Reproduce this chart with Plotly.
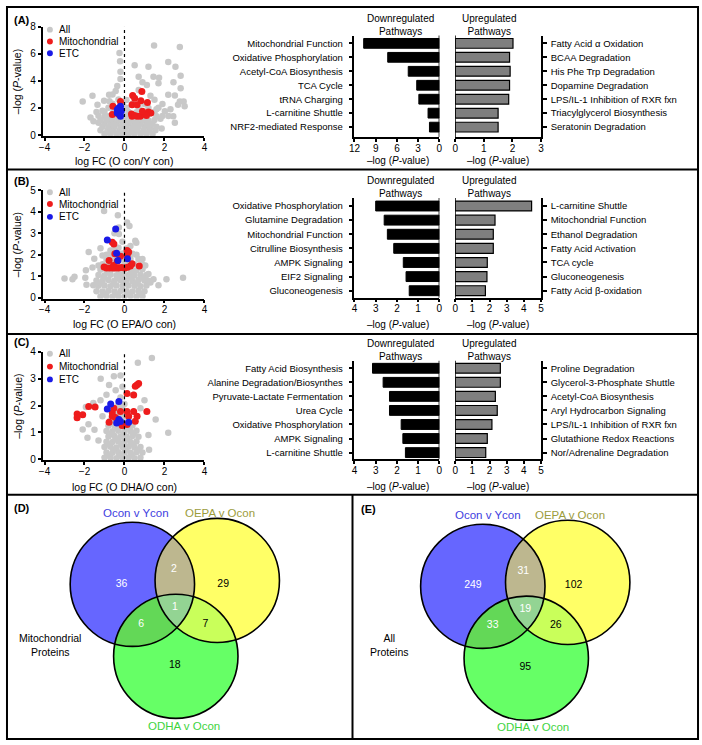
import numpy as np
import plotly.graph_objects as go

W, H = 702, 745
FONT = "Liberation Sans, Arial, Helvetica, sans-serif"

# ======================= DATA =======================
# ---- Panel A volcano (log FC O con / Y con) ----
A_all = [
    (1.48, 6.62), (2.77, 6.50), (-0.25, 6.06), (-0.22, 5.45), (2.19, 5.40), (0.51, 5.16), (1.20, 5.04), (2.55, 5.04),
    (-0.20, 4.67), (0.71, 4.30), (1.45, 4.30), (1.73, 4.23), (2.81, 4.38), (-0.20, 4.14), (1.70, 3.82), (2.45, 3.89),
    (1.12, 3.70), (-0.36, 3.62), (2.81, 3.45), (-0.44, 3.26), (0.71, 3.33), (0.90, 3.90), (-0.60, 3.00), (1.30, 2.90),
    (-0.77, 2.97), (2.19, 2.97), (2.52, 2.92), (-1.60, 2.90), (-2.09, 2.48), (-1.35, 2.24), (-1.02, 2.53), (-0.75, 2.50),
    (2.77, 2.48), (2.96, 2.48), (3.01, 2.12), (2.68, 2.24), (2.30, 1.90), (2.02, 1.75), (1.50, 2.60), (1.90, 2.30),
    (1.60, 1.90), (2.20, 1.40), (1.80, 1.20), (2.44, 1.39), (2.52, 0.90), (1.86, 0.49), (-1.10, 1.80), (-1.40, 1.70),
    (-1.70, 1.30), (-1.55, 1.02), (-1.30, 0.90), (-1.00, 1.35),
    (-1.00, 0.08), (-0.70, 0.12), (-0.40, 0.06), (-0.10, 0.10), (0.20, 0.05), (0.50, 0.12), (0.80, 0.08), (1.10, 0.10), (1.40, 0.06),
    (-1.20, 0.36), (-0.85, 0.33), (-0.55, 0.38), (-0.25, 0.32), (0.05, 0.37), (0.35, 0.34), (0.65, 0.36), (0.95, 0.31), (1.25, 0.38), (1.55, 0.35),
    (-1.10, 0.62), (-0.80, 0.58), (-0.50, 0.63), (-0.20, 0.59), (0.10, 0.61), (0.40, 0.57), (0.70, 0.64), (1.00, 0.60), (1.30, 0.58), (1.60, 0.62),
    (-1.00, 0.86), (-0.70, 0.83), (-0.40, 0.88), (-0.10, 0.84), (0.20, 0.87), (0.50, 0.82), (0.80, 0.86), (1.10, 0.88), (1.40, 0.84),
    (-1.20, 1.12), (-0.90, 1.08), (-0.60, 1.13), (-0.30, 1.09), (0.00, 1.11), (0.30, 1.07), (0.60, 1.12), (0.90, 1.10), (1.20, 1.08), (1.50, 1.12),
    (-1.30, 1.42), (-0.80, 1.38), (-0.45, 1.41), (0.10, 1.43), (0.45, 1.39), (0.75, 1.42), (1.60, 1.38), (1.90, 1.41),
    (-1.00, 1.72), (-0.55, 1.68), (0.20, 1.71), (0.60, 1.69), (0.90, 1.73), (1.50, 1.70),
    (-0.80, 2.02), (-0.40, 1.98), (0.10, 2.01), (0.70, 2.03), (1.20, 1.99), (1.70, 2.02),
    (-0.60, 2.31), (-0.10, 2.28), (0.40, 2.32), (1.00, 2.30), (-0.30, 2.62), (0.10, 2.58),
    (-0.85, 0.20), (-0.25, 0.18), (0.35, 0.20), (0.95, 0.22), (-0.55, 0.75), (0.05, 0.72), (0.65, 0.74), (1.25, 0.73),
    (-0.75, 1.25), (-0.15, 1.26), (0.45, 1.24), (1.05, 1.27), (-0.25, 1.55), (0.35, 1.56), (1.25, 1.55),
]
A_mito = [
    (0.41, 2.92), (0.87, 3.21), (0.51, 2.72), (0.82, 2.53), (1.15, 2.41), (-0.58, 2.12), (-0.20, 2.48),
    (0.38, 2.24), (0.63, 2.24), (-0.61, 1.51), (-0.28, 1.51), (0.35, 1.56), (0.63, 1.39), (0.79, 1.39),
    (1.04, 1.51), (1.20, 1.70), (1.32, 1.63), (0.90, 1.75), (0.38, 1.39), (1.10, 1.45), (0.50, 1.45),
]
A_etc = [(-0.36, 1.87), (-0.28, 2.00), (-0.20, 2.12), (-0.36, 1.63), (-0.23, 1.51), (-0.28, 1.75),
         (-0.15, 1.80), (-0.20, 1.39), (-0.30, 1.95)]

A_down_labels = ["Mitochondrial Function", "Oxidative Phosphorylation", "Acetyl-CoA Biosynthesis", "TCA Cycle",
                 "tRNA Charging", "L-carnitine Shuttle", "NRF2-mediated Response"]
A_down_vals = [10.7, 7.3, 4.4, 3.2, 2.9, 1.6, 1.4]
A_up_labels = ["Fatty Acid α Oxidation", "BCAA Degradation", "His Phe Trp Degradation", "Dopamine Degradation",
               "LPS/IL-1 Inhibition of RXR fxn", "Triacylglycerol Biosynthesis", "Seratonin Degradation"]
A_up_vals = [2.02, 1.90, 1.92, 1.90, 1.87, 1.50, 1.50]

# ---- Panel B volcano (log FC O EPA / O con) ----
B_all = [
    (-1.02, 4.03), (-0.33, 3.83), (0.13, 3.50), (0.25, 3.34), (-0.28, 3.27), (-0.28, 2.96), (-0.50, 3.00), (0.54, 2.65),
    (-0.10, 2.60), (0.59, 2.55), (0.30, 2.40), (-1.79, 2.12), (-1.20, 2.30), (-0.70, 2.20), (-0.90, 2.00), (-1.10, 1.96),
    (-1.51, 1.81), (-1.30, 1.50), (-1.60, 1.40), (-1.93, 1.27), (-1.96, 0.92), (-2.50, 0.97), (-2.60, 0.85), (-3.00, 0.89),
    (-1.90, 0.60), (-1.56, 0.58), (0.60, 2.00), (0.90, 1.80), (1.04, 1.50), (1.20, 1.10), (1.30, 0.70), (1.45, 0.86),
    (1.70, 0.58), (2.10, 0.86), (2.93, 0.92),
    (-1.20, 0.05), (-0.90, 0.07), (-0.60, 0.04), (-0.30, 0.06), (0.00, 0.05), (0.30, 0.07), (0.60, 0.04), (0.90, 0.06),
    (-1.40, 0.30), (-1.10, 0.28), (-0.80, 0.32), (-0.50, 0.29), (-0.20, 0.31), (0.10, 0.30), (0.40, 0.28), (0.70, 0.32), (1.00, 0.30),
    (-1.30, 0.55), (-1.00, 0.57), (-0.70, 0.53), (-0.40, 0.56), (-0.10, 0.54), (0.20, 0.57), (0.50, 0.55), (0.80, 0.53), (1.10, 0.56),
    (-1.40, 0.80), (-1.10, 0.78), (-0.80, 0.82), (-0.50, 0.79), (-0.20, 0.81), (0.10, 0.80), (0.40, 0.78), (0.70, 0.82), (1.00, 0.80), (1.20, 0.79),
    (-1.30, 1.05), (-1.00, 1.03), (-0.70, 1.07), (-0.40, 1.04), (-0.10, 1.06), (0.20, 1.05), (0.50, 1.03), (0.80, 1.07), (1.10, 1.05),
    (-1.20, 1.30), (-0.90, 1.28), (-0.60, 1.32), (-0.30, 1.29), (0.00, 1.31), (0.30, 1.30), (0.60, 1.28), (0.90, 1.32),
    (-1.10, 1.55), (-0.80, 1.57), (-0.50, 1.54), (0.00, 1.56), (0.50, 1.55), (0.90, 1.53),
    (-0.90, 1.80), (-0.60, 1.82), (-0.20, 1.79), (0.30, 1.81), (0.70, 1.80),
    (-0.70, 2.05), (-0.10, 2.06), (0.40, 2.04), (-0.50, 2.30), (-0.30, 2.32), (0.10, 2.29),
    (-1.05, 0.18), (-0.45, 0.17), (0.15, 0.19), (0.75, 0.18), (-1.15, 0.68), (-0.55, 0.67), (0.05, 0.69), (0.65, 0.68),
    (-1.05, 0.93), (-0.35, 0.92), (0.35, 0.94), (0.95, 0.93), (-0.75, 1.18), (-0.15, 1.17), (0.45, 1.19),
    (-0.35, 1.45), (0.25, 1.44), (-0.40, 1.70), (0.10, 1.68), (-0.40, 1.95), (0.15, 1.93),
]
B_mito = [
    (-0.61, 2.58), (-0.53, 2.50), (-0.48, 2.04), (-0.20, 1.93), (0.13, 2.19), (0.21, 2.12), (0.13, 1.96),
    (-0.77, 1.73), (-0.36, 1.69), (-1.02, 1.43), (-0.90, 1.38), (-0.75, 1.38), (-0.60, 1.38), (-0.45, 1.38),
    (-0.30, 1.38), (-0.15, 1.40), (0.00, 1.38), (0.15, 1.42), (0.30, 1.47), (0.38, 1.58), (0.74, 1.47), (-0.55, 1.50),
]
B_etc = [(-0.44, 3.19), (-0.86, 2.68), (-0.39, 2.07), (-0.33, 1.73), (0.15, 1.81)]

B_down_labels = ["Oxidative Phosphorylation", "Glutamine Degradation", "Mitochondrial Function",
                 "Citrulline Biosynthesis", "AMPK Signaling", "EIF2 Signaling", "Gluconeogenesis"]
B_down_vals = [3.0, 2.6, 2.45, 2.15, 1.7, 1.57, 1.42]
B_up_labels = ["L-carnitine Shuttle", "Mitochondrial Function", "Ethanol Degradation", "Fatty Acid Activation",
               "TCA cycle", "Gluconeogenesis", "Fatty Acid β-oxidation"]
B_up_vals = [4.45, 2.32, 2.22, 2.22, 1.87, 1.85, 1.76]

# ---- Panel C volcano (log FC O DHA / O con) ----
C_all = [
    (1.37, 3.77), (0.67, 3.59), (-0.53, 3.09), (-0.20, 3.12), (-1.19, 3.00), (-0.77, 2.76), (-0.44, 2.57), (-0.10, 2.70),
    (-0.90, 2.40), (-1.20, 2.20), (-1.56, 2.09), (-1.93, 1.94), (-1.10, 1.60), (-1.80, 1.30), (-2.09, 1.11), (-1.50, 1.10),
    (-1.85, 0.80), (-1.30, 0.70), (0.45, 2.40), (0.80, 1.90), (1.00, 2.20), (1.56, 1.48), (1.20, 0.90), (2.19, 0.99), (1.23, 0.35),
    (-1.00, 0.05), (-0.70, 0.06), (-0.40, 0.04), (-0.10, 0.05), (0.20, 0.06), (0.50, 0.04), (0.80, 0.05),
    (-0.90, 0.25), (-0.60, 0.24), (-0.30, 0.26), (0.00, 0.25), (0.30, 0.24), (0.60, 0.26), (0.90, 0.25),
    (-1.00, 0.45), (-0.70, 0.46), (-0.40, 0.44), (-0.10, 0.45), (0.20, 0.46), (0.50, 0.44), (0.80, 0.45),
    (-0.90, 0.65), (-0.60, 0.64), (-0.30, 0.66), (0.00, 0.65), (0.30, 0.64), (0.60, 0.66),
    (-0.80, 0.85), (-0.50, 0.86), (-0.20, 0.84), (0.10, 0.85), (0.40, 0.86), (0.70, 0.84),
    (-0.90, 1.05), (-0.60, 1.04), (-0.30, 1.06), (0.00, 1.05), (0.30, 1.04), (0.60, 1.06),
    (-0.80, 1.25), (-0.50, 1.26), (-0.20, 1.24), (0.10, 1.25), (0.40, 1.26),
    (-0.70, 1.45), (-0.40, 1.44), (-0.10, 1.46), (0.20, 1.45),
    (-0.50, 1.65), (-0.20, 1.66), (0.10, 1.64), (-0.40, 1.85), (-0.10, 1.86),
    (-0.30, 2.05), (0.00, 2.06), (-0.20, 2.30),
    (-0.85, 0.15), (-0.25, 0.14), (0.35, 0.16), (-0.55, 0.35), (0.05, 0.36), (0.65, 0.34), (-0.75, 0.55), (-0.15, 0.56),
    (0.45, 0.55), (-0.45, 0.75), (0.15, 0.76), (-0.65, 0.95), (-0.05, 0.94), (0.45, 0.96), (-0.35, 1.15), (0.25, 1.16),
    (-0.55, 1.35), (-0.05, 1.36), (-0.35, 1.55), (-0.25, 1.75), (-0.15, 1.95),
]
C_mito = [
    (0.71, 2.82), (0.62, 2.76), (0.54, 2.72), (0.13, 2.45), (0.46, 2.39), (-2.37, 1.68), (-2.37, 1.54),
    (-2.09, 1.66), (-1.79, 1.96), (-1.47, 1.94), (-0.53, 1.90), (-0.61, 1.72), (-0.61, 1.60), (-0.20, 1.78),
    (0.13, 1.78), (0.46, 1.78), (1.12, 1.78), (0.63, 1.60), (0.21, 1.60), (-0.77, 1.38), (-0.28, 1.41),
    (-0.12, 1.26), (0.13, 1.29), (0.54, 1.41), (-0.45, 1.55),
]
C_etc = [(-0.69, 2.06), (-0.28, 2.15), (-0.86, 1.87), (-0.28, 1.48), (-0.39, 1.35), (-0.20, 1.40), (0.21, 1.38)]

C_down_labels = ["Fatty Acid Biosynthesis", "Alanine Degradation/Biosynthes", "Pyruvate-Lactate Fermentation",
                 "Urea Cycle", "Oxidative Phosphorylation", "AMPK Signaling", "L-carnitine Shuttle"]
C_down_vals = [3.15, 2.65, 2.35, 2.35, 1.8, 1.72, 1.6]
C_up_labels = ["Proline Degradation", "Glycerol-3-Phosphate Shuttle", "Acetyl-CoA Biosynthesis",
               "Aryl Hydrocarbon Signaling", "LPS/IL-1 Inhibition of RXR fxn", "Glutathione Redox Reactions",
               "Nor/Adrenaline Degradation"]
C_up_vals = [2.63, 2.63, 2.34, 2.45, 2.14, 1.87, 1.78]

VOLCANO_XTITLES = ["log FC (O con/Y con)", "log FC (O EPA/O con)", "log FC (O DHA/O con)"]
LEGEND_NAMES = ["All", "Mitochondrial", "ETC"]

# ---- Venn diagrams ----
VENN_SETS = ["Ocon v Ycon", "OEPA v Ocon", "ODHA v Ocon"]
# regions: Ocon only, Ocon&OEPA, OEPA only, all three, Ocon&ODHA, OEPA&ODHA, ODHA only
D_counts = [36, 2, 29, 1, 6, 7, 18]
E_counts = [249, 31, 102, 19, 33, 26, 95]

# ======================= HELPERS / STYLE =======================
def fx(px):
    return px / W

def fy(py):
    return 1 - py / H

def xdom(a, b):
    return [fx(a), fx(b)]

def ydom(top, bottom):
    return [fy(bottom), fy(top)]

def aref(i, k):
    return k if i == 1 else f"{k}{i}"

def akey(i, k):
    return f"{k}axis" if i == 1 else f"{k}axis{i}"

GREY = "#c8c8c8"
RED = "#ee1c1c"
BLUE = "#1a1ae6"

AX = dict(showline=True, linecolor="black", linewidth=1.5, ticks="outside", ticklen=4, tickwidth=1.5,
          tickcolor="black", showgrid=False, zeroline=False, fixedrange=True,
          tickfont=dict(family=FONT, size=10, color="black"))

fig = go.Figure()
layout = dict(width=W, height=H, margin=dict(l=0, r=0, t=0, b=0), paper_bgcolor="white",
              plot_bgcolor="rgba(0,0,0,0)", showlegend=False,
              font=dict(family=FONT, size=10, color="black"))
shapes, annotations = [], []

def ann(text, x, y, size=10, xanchor="center", yanchor="middle", color="black", angle=0, xref="paper", yref="paper"):
    annotations.append(dict(text=text, x=x, y=y, xref=xref, yref=yref, showarrow=False, xanchor=xanchor,
                            yanchor=yanchor, textangle=angle, font=dict(family=FONT, size=size, color=color)))

panels = [
    dict(all=A_all, mito=A_mito, etc=A_etc, dl=A_down_labels, dv=A_down_vals, ul=A_up_labels, uv=A_up_vals),
    dict(all=B_all, mito=B_mito, etc=B_etc, dl=B_down_labels, dv=B_down_vals, ul=B_up_labels, uv=B_up_vals),
    dict(all=C_all, mito=C_mito, etc=C_etc, dl=C_down_labels, dv=C_down_vals, ul=C_up_labels, uv=C_up_vals),
]
# layout (pixel) specifications for each row panel
specs = [
    dict(label="(A)", label_y=14, vdom=(21, 132), vrange=[-0.073, 8], vticks=[0, 2, 4, 6, 8], vtop=8,
         bdom=(30, 133), brange=[6.71, -0.56], drange=[12, 0], dticks=[12, 9, 6, 3, 0], urange=[0, 3],
         uticks=[0, 1, 2, 3], head_y=19, title_y=157, leg_y=[24, 36, 48]),
    dict(label="(B)", label_y=178, vdom=(187, 297), vrange=[-0.046, 5], vticks=[0, 1, 2, 3, 4, 5], vtop=5,
         bdom=(195, 296), brange=[6.49, -0.56], drange=[4, 0], dticks=[4, 3, 2, 1, 0], urange=[0, 5],
         uticks=[0, 1, 2, 3, 4, 5], head_y=184, title_y=323, leg_y=[189, 201, 214]),
    dict(label="(C)", label_y=341, vdom=(351, 461), vrange=[-0.037, 4], vticks=[0, 1, 2, 3, 4], vtop=4,
         bdom=(360, 460), brange=[6.47, -0.54], drange=[4, 0], dticks=[4, 3, 2, 1, 0], urange=[0, 5],
         uticks=[0, 1, 2, 3, 4, 5], head_y=349, title_y=488, leg_y=[353, 366, 379]),
]

for p, (d, s) in enumerate(zip(panels, specs)):
    iv, idn, iup = 3 * p + 1, 3 * p + 2, 3 * p + 3
    # ---- volcano ----
    for pts, col, sz in ((d["all"], GREY, 6.5), (d["mito"], RED, 7), (d["etc"], BLUE, 7)):
        fig.add_trace(go.Scatter(x=[a for a, b in pts], y=[b for a, b in pts], mode="markers",
                                 marker=dict(color=col, size=sz, line=dict(width=0)),
                                 xaxis=aref(iv, "x"), yaxis=aref(iv, "y"), hoverinfo="skip"))
    layout[akey(iv, "x")] = dict(AX, domain=xdom(37, 201), range=[-4.1, 4], tickvals=[-4, -2, 0, 2, 4],
                                 anchor=aref(iv, "y"), ticklen=3, ticklabelstandoff=-2)
    layout[akey(iv, "y")] = dict(AX, domain=ydom(*s["vdom"]), range=s["vrange"], tickvals=s["vticks"],
                                 anchor=aref(iv, "x"), ticklen=3)
    shapes.append(dict(type="line", xref=aref(iv, "x"), yref=aref(iv, "y"), x0=0, x1=0, y0=0, y1=s["vtop"],
                       line=dict(color="black", width=1.2, dash="dot")))
    # legend (manual)
    for name, col, ly in zip(LEGEND_NAMES, (GREY, RED, BLUE), s["leg_y"]):
        shapes.append(dict(type="circle", xref="paper", yref="paper", x0=fx(41.5), x1=fx(47.5),
                           y0=fy(ly + 3), y1=fy(ly - 3), fillcolor=col, line=dict(width=0)))
        ann(name, fx(52), fy(ly), size=10, xanchor="left")
    ann("–log (<i>P</i>-value)", fx(12), fy((s["vdom"][0] + s["vdom"][1]) / 2), size=10.5, angle=-90)
    ann(VOLCANO_XTITLES[p], fx(120), fy(s["title_y"]), size=10.5)
    ann("<b>" + s["label"] + "</b>", fx(6), fy(s["label_y"]), size=11, xanchor="left")

    # ---- downregulated bars ----
    fig.add_trace(go.Bar(x=d["dv"], y=list(range(7)), orientation="h", width=0.7,
                         marker=dict(color="black", line=dict(color="black", width=1)),
                         xaxis=aref(idn, "x"), yaxis=aref(idn, "y"), hoverinfo="skip"))
    layout[akey(idn, "x")] = dict(AX, domain=xdom(353, 439), range=s["drange"], tickvals=s["dticks"],
                                  anchor=aref(idn, "y"), ticklen=3, ticklabelstandoff=-2)
    layout[akey(idn, "y")] = dict(AX, domain=ydom(*s["bdom"]), range=s["brange"], tickvals=list(range(7)),
                                  ticktext=d["dl"], anchor=aref(idn, "x"), side="left", ticklabelstandoff=4,
                                  tickfont=dict(family=FONT, size=9.5, color="black"))
    shapes.append(dict(type="line", xref=aref(idn, "x"), yref=aref(idn, "y") + " domain", x0=0, x1=0, y0=0, y1=1,
                       line=dict(color="black", width=1.5)))
    # ---- upregulated bars ----
    fig.add_trace(go.Bar(x=d["uv"], y=list(range(7)), orientation="h", width=0.7,
                         marker=dict(color="#7f7f7f", line=dict(color="black", width=1.2)),
                         xaxis=aref(iup, "x"), yaxis=aref(iup, "y"), hoverinfo="skip"))
    layout[akey(iup, "x")] = dict(AX, domain=xdom(455, 542), range=s["urange"], tickvals=s["uticks"],
                                  anchor=aref(iup, "y"), ticklen=3, ticklabelstandoff=-2)
    layout[akey(iup, "y")] = dict(AX, domain=ydom(*s["bdom"]), range=s["brange"], tickvals=list(range(7)),
                                  ticktext=d["ul"], anchor=aref(iup, "x"), side="right", ticklabelstandoff=2,
                                  tickfont=dict(family=FONT, size=9.5, color="black"))
    shapes.append(dict(type="line", xref=aref(iup, "x"), yref=aref(iup, "y") + " domain", x0=0, x1=0, y0=0, y1=1,
                       line=dict(color="black", width=1.5)))
    ann("Downregulated<br>Pathways", fx(400), fy(s["head_y"]), size=10)
    ann("Upregulated<br>Pathways", fx(489), fy(s["head_y"]), size=10)
    ann("–log (<i>P</i>-value)", fx(397), fy(s["title_y"]), size=10)
    ann("–log (<i>P</i>-value)", fx(498), fy(s["title_y"]), size=10)

# ======================= VENN =======================
def region_path(circs):
    t = np.linspace(0, 2 * np.pi, 721)[:-1]
    pts = []
    for i, (cx, cy, r) in enumerate(circs):
        xs, ys = cx + r * np.cos(t), cy + r * np.sin(t)
        m = np.ones_like(xs, dtype=bool)
        for j, (ox, oy, orr) in enumerate(circs):
            if j != i:
                m &= (xs - ox) ** 2 + (ys - oy) ** 2 <= orr ** 2 + 1e-6
        pts += list(zip(xs[m], ys[m]))
    pts = np.array(pts)
    c = pts.mean(axis=0)
    order = np.argsort(np.arctan2(pts[:, 1] - c[1], pts[:, 0] - c[0]))
    pts = pts[order]
    return "M " + " L ".join(f"{x:.2f},{y:.2f}" for x, y in pts) + " Z"

SET_FILL = ["#6666ff", "#ffff66", "#66ff66"]
PAIR_FILL = {(0, 1): "#bdb78f", (0, 2): "#63d857", (1, 2): "#c9ff5a"}
TRIPLE_FILL = "#93d493"
SET_TITLE_COL = ["#3d3de0", "#9c9c3c", "#3ed43e"]
NUM_COL = ["white", "white", "black", "white", "white", "black", "black"]

venns = [
    dict(ax=10, xr=(0, 351), counts=D_counts, side="Mitochondrial<br>Proteins", side_pos=(45, 649),
         circles=[(128, 587, 63), (214, 583, 63), (172, 660, 63)],
         num_pos=[(117, 587), (170, 572), (220, 587), (171, 610), (137, 628), (202, 628), (171, 669)],
         title_pos=[(132, 515), (217, 515), (180, 731)], label="(D)", label_pos=(6, 510)),
    dict(ax=11, xr=(351, 702), counts=E_counts, side="All<br>Proteins", side_pos=(388, 649),
         circles=[(483, 589, 63), (569, 585, 63), (527, 662, 63)],
         num_pos=[(473, 588), (524, 574), (575, 588), (526, 612), (493, 629), (557, 629), (526, 671)],
         title_pos=[(488, 517), (571, 517), (534, 732)], label="(E)", label_pos=(358, 511)),
]
for v in venns:
    i = v["ax"]
    xr, yr = aref(i, "x"), aref(i, "y")
    layout[akey(i, "x")] = dict(domain=xdom(*v["xr"]), range=list(v["xr"]), visible=False, fixedrange=True,
                                anchor=yr)
    layout[akey(i, "y")] = dict(domain=ydom(496, 745), range=[745, 496], visible=False, fixedrange=True,
                                anchor=xr)
    circ = v["circles"]
    for k, (cx, cy, r) in enumerate(circ):
        shapes.append(dict(type="circle", xref=xr, yref=yr, x0=cx - r, x1=cx + r, y0=cy - r, y1=cy + r,
                           fillcolor=SET_FILL[k], line=dict(width=0), layer="below"))
    for (a, b), col in PAIR_FILL.items():
        shapes.append(dict(type="path", xref=xr, yref=yr, path=region_path([circ[a], circ[b]]),
                           fillcolor=col, line=dict(width=0), layer="below"))
    shapes.append(dict(type="path", xref=xr, yref=yr, path=region_path(circ), fillcolor=TRIPLE_FILL,
                       line=dict(width=0), layer="below"))
    for (cx, cy, r) in circ:
        shapes.append(dict(type="circle", xref=xr, yref=yr, x0=cx - r, x1=cx + r, y0=cy - r, y1=cy + r,
                           line=dict(color="black", width=1.6), layer="below"))
    fig.add_trace(go.Scatter(x=[q[0] for q in v["num_pos"]], y=[q[1] for q in v["num_pos"]], mode="text",
                             text=[str(c) for c in v["counts"]],
                             textfont=dict(family=FONT, size=10.5, color=NUM_COL),
                             xaxis=xr, yaxis=yr, hoverinfo="skip"))
    for name, (tx, ty), col in zip(VENN_SETS, v["title_pos"], SET_TITLE_COL):
        ann(name, tx, ty, size=11.5, color=col, xref=xr, yref=yr)
    ann(v["side"], v["side_pos"][0], v["side_pos"][1], size=10.5, xref=xr, yref=yr)
    ann("<b>" + v["label"] + "</b>", fx(v["label_pos"][0]), fy(v["label_pos"][1]), size=11, xanchor="left")

# ======================= PANEL BORDERS =======================
BL = dict(color="black", width=2)
shapes.append(dict(type="rect", xref="paper", yref="paper", x0=fx(1), x1=fx(701), y0=fy(744), y1=fy(1), line=BL))
for yy in (166, 333, 496):
    shapes.append(dict(type="line", xref="paper", yref="paper", x0=fx(1), x1=fx(701), y0=fy(yy), y1=fy(yy), line=BL))
shapes.append(dict(type="line", xref="paper", yref="paper", x0=fx(351), x1=fx(351), y0=fy(496), y1=fy(744), line=BL))

layout["shapes"] = shapes
layout["annotations"] = annotations
layout["bargap"] = 0.3
fig.update_layout(**layout)
fig.write_html("out.html", config={"displayModeBar": False},
               post_script="document.body.style.margin='0px';document.body.style.overflow='hidden';")
